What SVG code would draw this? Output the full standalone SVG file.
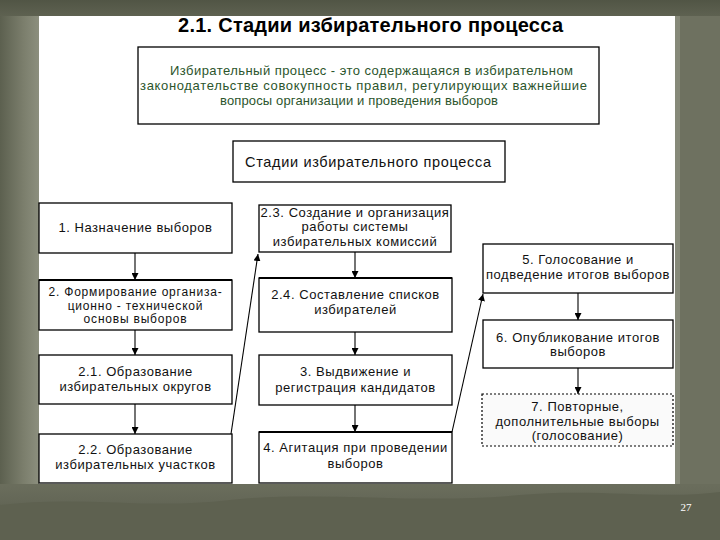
<svg xmlns="http://www.w3.org/2000/svg" width="720" height="540" viewBox="0 0 720 540">
<style>
.box{fill:#fff;stroke:#000;stroke-width:1.3}
.thick{stroke:#000;stroke-width:2.2}
.t{font-family:"Liberation Sans",Arial,sans-serif;font-size:13px;letter-spacing:0.55px;fill:#111;text-anchor:middle}
.def{font-family:"Liberation Sans",Arial,sans-serif;font-size:13px;fill:#2c552c;text-anchor:middle}
.c{stroke:#000;stroke-width:1.1;fill:none;marker-end:url(#ah)}
</style>
<defs>
<marker id="ah" viewBox="0 0 10 10" refX="10" refY="5" markerWidth="7" markerHeight="7" markerUnits="userSpaceOnUse" orient="auto">
<path d="M0,0 L10,5 L0,10 z" fill="#000"/>
</marker>
<linearGradient id="bgv" x1="0" y1="0" x2="0" y2="1">
<stop offset="0" stop-color="#515545"/>
<stop offset="0.05" stop-color="#676a59"/>
<stop offset="0.5" stop-color="#6f7261"/>
<stop offset="0.9" stop-color="#6a6d5c"/>
<stop offset="1" stop-color="#55584a"/>
</linearGradient>
<linearGradient id="lb" x1="0" y1="0" x2="1" y2="0">
<stop offset="0" stop-color="#5c604f"/>
<stop offset="0.6" stop-color="#7b7e6c"/>
<stop offset="1" stop-color="#8c8f7e"/>
</linearGradient>
</defs>
<g id="background">
<rect x="0" y="0" width="720" height="540" fill="url(#bgv)"/>
<rect x="0" y="16" width="39" height="468" fill="url(#lb)"/>
<rect x="675" y="16" width="45" height="468" fill="#6e7160"/>
<rect x="675" y="16" width="5" height="468" fill="#868979"/>
<path d="M0,505 C80,495 150,510 230,500 C320,490 420,505 520,495 C600,488 660,500 720,492 L720,540 L0,540 z" fill="#5e6150"/>
<rect x="39" y="16" width="636" height="468" fill="#fff"/>
</g>
<g id="title">
<text x="370.5" y="32" font-family="'Liberation Sans',Arial,sans-serif" font-size="20" font-weight="bold" text-anchor="middle" fill="#000" textLength="385" lengthAdjust="spacing">2.1. Стадии избирательного процесса</text>
</g>
<g id="definition">
<rect class="box" x="138" y="47" width="461" height="77"/>
<text class="def" x="371.5" y="75" textLength="403" lengthAdjust="spacing">Избирательный процесс - это содержащаяся в избирательном</text>
<text class="def" x="363.5" y="90" textLength="447" lengthAdjust="spacing">законодательстве совокупность правил, регулирующих важнейшие</text>
<text class="def" x="359" y="105" textLength="278" lengthAdjust="spacing">вопросы организации и проведения выборов</text>
</g>
<g id="stages">
<rect class="box" x="233" y="141" width="272" height="41"/>
<text class="t" x="368" y="167" style="font-size:14.5px;letter-spacing:0" textLength="246" lengthAdjust="spacing">Стадии избирательного процесса</text>
</g>
<g id="n1">
<rect class="box" x="39" y="203" width="193" height="50"/>
<text class="t" x="135.5" y="232">1. Назначение выборов</text>
</g>
<g id="n2">
<rect class="box" x="39" y="280" width="193" height="50"/>
<line class="thick" x1="39" y1="280" x2="232" y2="280"/>
<text class="t" x="135.5" y="296" style="font-size:12px;letter-spacing:0.8px">2. Формирование организа-</text>
<text class="t" x="135.5" y="309.5" style="font-size:12px;letter-spacing:0.8px">ционно - технической</text>
<text class="t" x="135.5" y="323" style="font-size:12px;letter-spacing:0.8px">основы выборов</text>
</g>
<g id="n21">
<rect class="box" x="39" y="355" width="193" height="49"/>
<text class="t" x="135.5" y="376">2.1. Образование</text>
<text class="t" x="135.5" y="391">избирательных округов</text>
</g>
<g id="n22">
<rect class="box" x="39" y="434" width="193" height="49"/>
<text class="t" x="135.5" y="454">2.2. Образование</text>
<text class="t" x="135.5" y="469">избирательных участков</text>
</g>
<g id="n23">
<rect class="box" x="259" y="205" width="192" height="47"/>
<text class="t" x="355" y="216.5">2.3. Создание и организация</text>
<text class="t" x="355" y="231">работы системы</text>
<text class="t" x="355" y="246">избирательных комиссий</text>
</g>
<g id="n24">
<rect class="box" x="259" y="278" width="193" height="54"/>
<line class="thick" x1="259" y1="278" x2="452" y2="278"/>
<text class="t" x="355.5" y="299">2.4. Составление списков</text>
<text class="t" x="355.5" y="314">избирателей</text>
</g>
<g id="n3">
<rect class="box" x="259" y="355" width="193" height="50"/>
<text class="t" x="355.5" y="376">3. Выдвижение и</text>
<text class="t" x="355.5" y="392">регистрация кандидатов</text>
</g>
<g id="n4">
<rect class="box" x="259" y="432" width="193" height="51"/>
<line class="thick" x1="259" y1="432" x2="452" y2="432"/>
<text class="t" x="355.5" y="452">4. Агитация при проведении</text>
<text class="t" x="355.5" y="468">выборов</text>
</g>
<g id="n5">
<rect class="box" x="483" y="244" width="190" height="49"/>
<text class="t" x="578" y="264">5. Голосование и</text>
<text class="t" x="578" y="279">подведение итогов выборов</text>
</g>
<g id="n6">
<rect class="box" x="483" y="320" width="190" height="48"/>
<text class="t" x="578" y="342">6. Опубликование итогов</text>
<text class="t" x="578" y="356">выборов</text>
</g>
<g id="n7">
<rect x="482" y="394" width="191" height="52" fill="#fafafa" stroke="#000" stroke-width="1.2" stroke-dasharray="2,2"/>
<text class="t" x="577.5" y="411">7. Повторные,</text>
<text class="t" x="577.5" y="426">дополнительные выборы</text>
<text class="t" x="577.5" y="440">(голосование)</text>
</g>
<g id="connectors">
<line class="c" x1="135" y1="253" x2="135" y2="280"/>
<line class="c" x1="135" y1="330" x2="135" y2="355"/>
<line class="c" x1="135" y1="404" x2="135" y2="434"/>
<line class="c" x1="231" y1="434" x2="258" y2="254"/>
<line class="c" x1="355" y1="252" x2="355" y2="278"/>
<line class="c" x1="355" y1="332" x2="355" y2="355"/>
<line class="c" x1="355" y1="405" x2="355" y2="432"/>
<line class="c" x1="452" y1="432" x2="483" y2="294"/>
<line class="c" x1="578" y1="293" x2="578" y2="320"/>
<line class="c" x1="578" y1="368" x2="578" y2="394"/>
</g>
<g id="page">
<text x="686" y="511" font-family="'Liberation Serif','Times New Roman',serif" font-size="11" fill="#fff" text-anchor="middle">27</text>
</g>
</svg>
